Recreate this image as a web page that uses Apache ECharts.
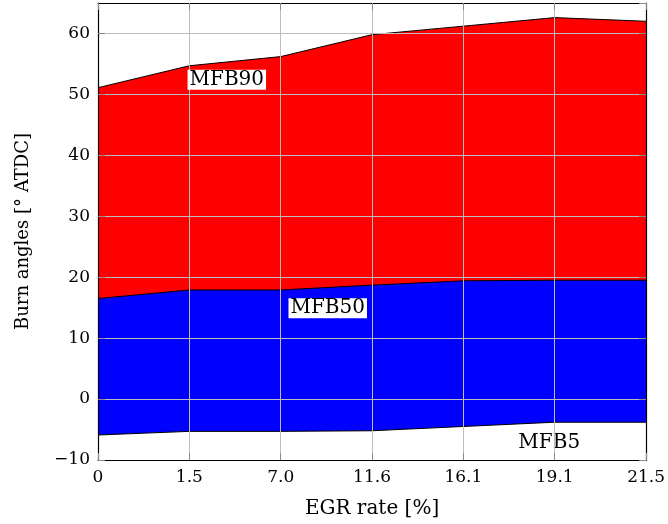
<!DOCTYPE html>
<html>
<head>
<meta charset="utf-8">
<script src="https://cdn.jsdelivr.net/npm/echarts@6/dist/echarts.min.js"></script>
<style>
  html, body { margin: 0; padding: 0; background: #fff; }
  #chart { width: 668px; height: 524px; }
</style>
</head>
<body>
<div id="chart"></div>
<script>
// EGR rate tick labels (one per measured operating point)
const egrLabels = ['0', '1.5', '7.0', '11.6', '16.1', '19.1', '21.5'];

// Burn angles in degrees after TDC for each mass-fraction-burned point
const mfb5  = [-5.9, -5.3, -5.3, -5.2, -4.5, -3.8, -3.8];
const mfb50 = [16.5, 17.9, 17.9, 18.7, 19.4, 19.5, 19.5];
const mfb90 = [51.1, 54.7, 56.2, 59.8, 61.2, 62.6, 62.0];

// In-plot band labels: name, position along the EGR index axis, angle
const bandNames = ['MFB90', 'MFB50', 'MFB5'];
const bandLabelX = [1.41, 2.515, 4.94];
const bandLabelY = [52.4, 14.9, -7.2];

const FONT = 'DejaVu Serif';
const idx = egrLabels.map((_, i) => i);
const toPairs = vals => vals.map((v, i) => [idx[i], v]);

const chart = echarts.init(document.getElementById('chart'), null, { renderer: 'canvas' });

function bandSeries(name, vals, fill) {
  return {
    name: name,
    type: 'line',
    data: toPairs(vals),
    symbol: 'none',
    z: 2,
    lineStyle: { color: '#000', width: 1 },
    areaStyle: { color: fill, opacity: 1, origin: 'start' },
    silent: true
  };
}

function labelSeries(which, withBg, z) {
  return {
    type: 'scatter',
    symbolSize: 0,
    z: z,
    silent: true,
    itemStyle: { opacity: 1 },
    emphasis: { disabled: true },
    data: which.map(i => ({ value: [bandLabelX[i], bandLabelY[i]], name: bandNames[i] })),
    label: {
      show: true,
      position: 'inside',
      formatter: p => p.name,
      fontFamily: FONT,
      fontSize: 20,
      color: '#000',
      opacity: 1,
      backgroundColor: withBg ? '#fff' : 'transparent',
      padding: [0, 2, 0, 2]
    }
  };
}

const yFmt = v => (v % 10 !== 0 ? '' : (v < 0 ? '\u2212' + Math.abs(v) : String(v)));

const tickStyle = { show: true, inside: true, length: 7, lineStyle: { color: '#8a8a8a', width: 1 } };
const gridLine = { show: true, lineStyle: { color: '#bdbdbd', width: 1 } };
const frame = { show: true, onZero: false, lineStyle: { color: '#000', width: 1.2 } };

chart.setOption({
  animation: false,
  backgroundColor: '#fff',
  grid: { left: 98, right: 18, top: 3, bottom: 64, containLabel: false },
  xAxis: [
    {
      type: 'value', min: 0, max: 6, interval: 1, position: 'bottom', z: 5,
      axisLine: frame, axisTick: tickStyle, splitLine: gridLine,
      axisLabel: {
        formatter: v => egrLabels[v] ?? '', margin: 9,
        fontFamily: FONT, fontSize: 17, color: '#000'
      },
      name: 'EGR rate [%]', nameLocation: 'middle', nameGap: 39,
      nameTextStyle: { fontFamily: FONT, fontSize: 20, color: '#000' }
    },
    {
      type: 'value', min: 0, max: 6, interval: 1, position: 'top', z: 5,
      axisLine: frame, axisTick: tickStyle, splitLine: { show: false },
      axisLabel: { show: false }
    }
  ],
  yAxis: [
    {
      type: 'value', min: -10, max: 65, interval: 10, position: 'left', z: 5,
      axisLine: frame, axisTick: tickStyle, splitLine: gridLine,
      axisLabel: {
        formatter: yFmt, margin: 8, showMaxLabel: false,
        fontFamily: FONT, fontSize: 17, color: '#000'
      },
      name: 'Burn angles [° ATDC]', nameLocation: 'middle', nameRotate: 90, nameGap: 66,
      nameTextStyle: { fontFamily: FONT, fontSize: 18, color: '#000' }
    },
    {
      type: 'value', min: -10, max: 65, interval: 10, position: 'right', z: 5,
      axisLine: frame, axisTick: tickStyle, splitLine: { show: false },
      axisLabel: { show: false }
    }
  ],
  series: [
    bandSeries('MFB90', mfb90, '#ff0000'),
    bandSeries('MFB50', mfb50, '#0000ff'),
    bandSeries('MFB5', mfb5, '#ffffff'),
    labelSeries([2], false, 3),
    labelSeries([0, 1], true, 6)
  ]
});
</script>
</body>
</html>
